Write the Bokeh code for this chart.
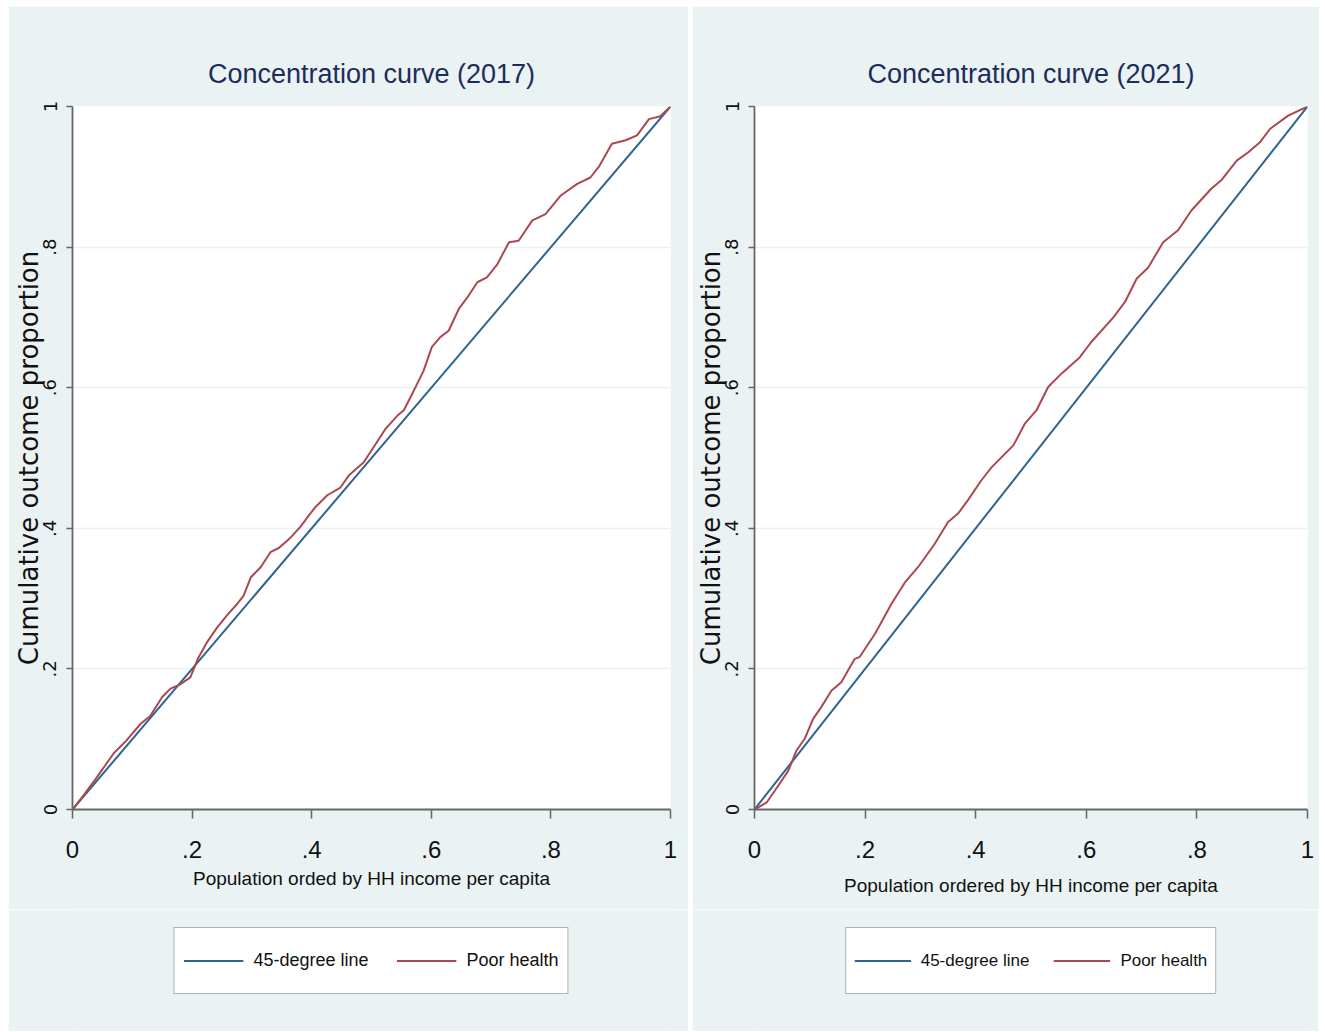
from bokeh.plotting import figure
from bokeh.layouts import row, column
from bokeh.models import Legend, LegendItem, FixedTicker, Range1d
from bokeh.embed import file_html
from bokeh.resources import INLINE

# ---- data ----
tick_values = [0, 0.2, 0.4, 0.6, 0.8, 1]
tick_labels = ["0", ".2", ".4", ".6", ".8", "1"]

diag_x = [0, 1]
diag_y = [0, 1]

x_2017 = [0, 0.02, 0.04, 0.069, 0.09, 0.114, 0.13, 0.15, 0.164, 0.18, 0.197, 0.21,
          0.225, 0.242, 0.26, 0.275, 0.286, 0.298, 0.315, 0.331, 0.345, 0.365, 0.381,
          0.395, 0.406, 0.426, 0.448, 0.462, 0.487, 0.507, 0.523, 0.543, 0.554, 0.565,
          0.579, 0.587, 0.601, 0.615, 0.629, 0.646, 0.66, 0.677, 0.693, 0.71, 0.730,
          0.746, 0.769, 0.791, 0.816, 0.844, 0.866, 0.880, 0.902, 0.925, 0.944, 0.964,
          0.983, 1.0]
y_2017 = [0, 0.022, 0.045, 0.080, 0.098, 0.122, 0.133, 0.160, 0.172, 0.178, 0.188, 0.215,
          0.238, 0.259, 0.278, 0.292, 0.304, 0.330, 0.345, 0.366, 0.372, 0.387, 0.402,
          0.418, 0.430, 0.447, 0.458, 0.475, 0.494, 0.520, 0.541, 0.560, 0.568, 0.586,
          0.610, 0.624, 0.658, 0.672, 0.681, 0.712, 0.728, 0.750, 0.757, 0.775, 0.807,
          0.809, 0.838, 0.847, 0.873, 0.890, 0.899, 0.914, 0.947, 0.952, 0.959, 0.982,
          0.986, 1.0]

x_2021 = [0, 0.022, 0.037, 0.061, 0.076, 0.091, 0.106, 0.121, 0.139, 0.157, 0.181, 0.190,
          0.218, 0.248, 0.272, 0.296, 0.326, 0.350, 0.368, 0.386, 0.410, 0.429, 0.468,
          0.489, 0.510, 0.531, 0.555, 0.588, 0.609, 0.649, 0.670, 0.691, 0.712, 0.739,
          0.766, 0.790, 0.826, 0.844, 0.872, 0.893, 0.914, 0.932, 0.965, 1.0]
y_2021 = [0, 0.010, 0.027, 0.055, 0.084, 0.101, 0.129, 0.146, 0.169, 0.181, 0.214, 0.217,
          0.250, 0.293, 0.323, 0.345, 0.378, 0.409, 0.421, 0.440, 0.468, 0.487, 0.518,
          0.549, 0.568, 0.601, 0.620, 0.643, 0.665, 0.700, 0.722, 0.755, 0.771, 0.807,
          0.824, 0.852, 0.883, 0.895, 0.923, 0.935, 0.949, 0.968, 0.987, 1.0]

series_names = ["45-degree line", "Poor health"]

# ---- style ----
BG = "#eaf2f3"
NAVY = "#1c2d5a"
BLUE = "#2f6390"
RED = "#ab4850"
SANS = "Liberation Sans"
WIDE = "DejaVu Sans"


def make_panel(title, xlab, xs, ys, left, frame_w, right, label_standoff):
    p = figure(frame_width=frame_w, frame_height=703,
               min_border_left=left, min_border_right=right,
               min_border_top=100, min_border_bottom=100,
               x_range=Range1d(0, 1), y_range=Range1d(0, 1),
               output_backend="svg", toolbar_location=None,
               background_fill_color="white", border_fill_color=BG)
    p.outline_line_color = None

    p.line(diag_x, diag_y, line_color=BLUE, line_width=2)
    p.line(xs, ys, line_color=RED, line_width=2)

    p.title.text = title
    p.title.align = "center"
    p.title.text_font = SANS
    p.title.text_font_size = "27px"
    p.title.text_font_style = "normal"
    p.title.text_color = NAVY
    p.title.standoff = 36

    overrides = {v: l for v, l in zip(tick_values, tick_labels)}
    for ax in (p.xaxis[0], p.yaxis[0]):
        ax.ticker = FixedTicker(ticks=tick_values)
        ax.major_label_overrides = overrides
        ax.minor_tick_line_color = None
        ax.axis_line_color = "#666666"
        ax.axis_line_width = 1.8
        ax.major_tick_line_color = "#666666"
        ax.major_tick_line_width = 1.5
        ax.major_tick_in = 0
        ax.major_label_text_color = "#111111"
        ax.axis_label_text_color = "#111111"
        ax.axis_label_text_font_style = "normal"

    xa = p.xaxis[0]
    xa.major_tick_out = 9
    xa.major_label_text_font = SANS
    xa.major_label_text_font_size = "24px"
    xa.major_label_standoff = 22
    xa.axis_label = xlab
    xa.axis_label_text_font = SANS
    xa.axis_label_text_font_size = "19px"
    xa.axis_label_standoff = label_standoff

    ya = p.yaxis[0]
    ya.major_tick_out = 6
    ya.major_label_orientation = "vertical"
    ya.major_label_text_font = WIDE
    ya.major_label_text_font_size = "18px"
    ya.major_label_standoff = 10
    ya.axis_label = "Cumulative outcome proportion"
    ya.axis_label_text_font = WIDE
    ya.axis_label_text_font_size = "26px"
    ya.axis_label_standoff = -3

    p.xgrid.visible = False
    p.ygrid.grid_line_color = BG
    p.ygrid.grid_line_width = 1.5
    return p


def make_legend(xs, ys, left, frame_w, right, font, glyph_w, spacing, pad, row_h):
    q = figure(frame_width=frame_w, frame_height=122,
               min_border_left=left, min_border_right=right,
               min_border_top=0, min_border_bottom=0,
               x_range=Range1d(2, 3), y_range=Range1d(2, 3),
               x_axis_location=None, y_axis_location=None,
               output_backend="svg", toolbar_location=None,
               background_fill_color=BG, border_fill_color=BG)
    q.outline_line_color = None
    q.grid.visible = False
    r1 = q.line(diag_x, diag_y, line_color=BLUE, line_width=2)
    r2 = q.line(xs, ys, line_color=RED, line_width=2)
    legend = Legend(items=[LegendItem(label=series_names[0], renderers=[r1]),
                           LegendItem(label=series_names[1], renderers=[r2])],
                    orientation="horizontal", location="top_center")
    legend.label_text_font = SANS
    legend.label_text_font_size = font
    legend.label_text_color = "#111111"
    legend.glyph_width = glyph_w
    legend.label_height = row_h
    legend.glyph_height = row_h
    legend.label_standoff = 10
    legend.spacing = spacing
    legend.padding = pad
    legend.margin = 18
    legend.border_line_color = "#666666"
    legend.border_line_width = 1.5
    legend.background_fill_color = "white"
    legend.background_fill_alpha = 1.0
    q.add_layout(legend)
    return q


p1 = make_panel("Concentration curve (2017)", "Population orded by HH income per capita",
                x_2017, y_2017, 64, 598, 18, 7)
l1 = make_legend(x_2017, y_2017, 64, 598, 18, "18px", 60, 28, 9, 47)
p2 = make_panel("Concentration curve (2021)", "Population ordered by HH income per capita",
                x_2021, y_2021, 61, 553, 12, 14)
l2 = make_legend(x_2021, y_2021, 61, 553, 12, "17px", 57, 24, 8, 49)

layout = row(column(p1, l1, spacing=0), column(p2, l2, spacing=0),
             spacing=4, margin=(6, 0, 0, 8))

with open("out.html", "w") as f:
    f.write(file_html(layout, INLINE))
